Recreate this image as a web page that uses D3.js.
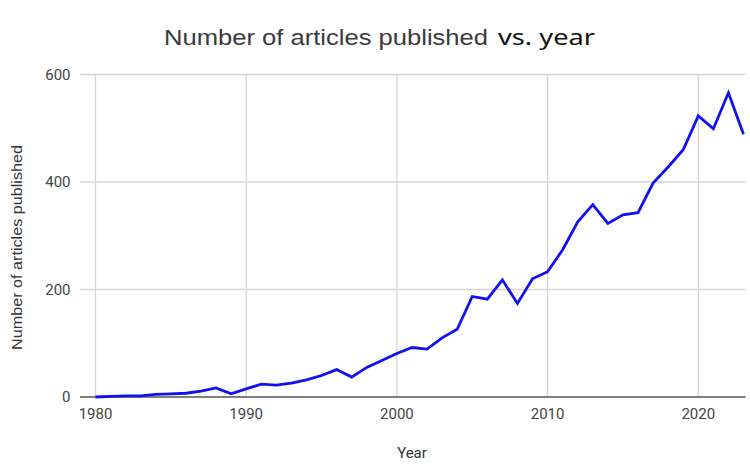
<!DOCTYPE html>
<html>
<head>
<meta charset="utf-8">
<script src="https://cdn.jsdelivr.net/npm/d3@7/dist/d3.min.js"></script>
<style>
  html, body { margin: 0; padding: 0; background: #fff; }
  svg { display: block; }
</style>
</head>
<body>
<svg id="chart" width="750" height="465"></svg>
<script>
const years = [1980,1981,1982,1983,1984,1985,1986,1987,1988,1989,
  1990,1991,1992,1993,1994,1995,1996,1997,1998,1999,
  2000,2001,2002,2003,2004,2005,2006,2007,2008,2009,
  2010,2011,2012,2013,2014,2015,2016,2017,2018,2019,
  2020,2021,2022,2023];
const articles = [0,1,2,2,5,6,7,11,17,6,
  15,24,22,26,32,40,51,37,55,68,
  81,92,89,110,126,187,182,218,174,220,
  233,274,326,358,323,339,343,398,428,460,
  523,499,566,489];
const xTicks = [1980,1990,2000,2010,2020];
const yTicks = [0,200,400,600];
const titleMain = "Number of articles published";
const titleTail = "vs. year";
const xTitle = "Year";
const yTitle = "Number of articles published";

(function () {
const svg = d3.select("#chart");
const pLeft = 95.5, pRight = 743.5, pTop = 74.5, pBottom = 397;
const x = d3.scaleLinear().domain([1980, 2023]).range([pLeft, pRight]);
const y = d3.scaleLinear().domain([0, 600]).range([pBottom, pTop]);

// gridlines
const grid = svg.append("g");
grid.selectAll("line.h").data(yTicks.filter(d => d > 0)).join("line")
  .attr("x1", 80).attr("x2", pRight + 2)
  .attr("y1", d => y(d)).attr("y2", d => y(d))
  .attr("stroke", "#d6d6d6").attr("stroke-width", 1.3);
grid.selectAll("line.v").data(xTicks).join("line")
  .attr("x1", d => x(d)).attr("x2", d => x(d))
  .attr("y1", pTop).attr("y2", pBottom)
  .attr("stroke", "#d6d6d6").attr("stroke-width", 1.3);

// baseline
svg.append("line").attr("x1", 80).attr("x2", pRight + 2)
  .attr("y1", y(0)).attr("y2", y(0))
  .attr("stroke", "#555").attr("stroke-width", 1.3);

// y tick labels
svg.append("g").selectAll("text").data(yTicks).join("text")
  .attr("x", 70.5).attr("y", d => y(d)).attr("dy", "0.35em")
  .attr("text-anchor", "end")
  .attr("font-family", "Roboto, Arial, sans-serif").attr("font-size", 15)
  .attr("fill", "#444").text(d => d);

// x tick labels
svg.append("g").selectAll("text").data(xTicks).join("text")
  .attr("x", d => x(d)).attr("y", 418.5)
  .attr("text-anchor", "middle")
  .attr("font-family", "Roboto, Arial, sans-serif").attr("font-size", 15)
  .attr("fill", "#444").text(d => d);

// line
const line = d3.line().x((d, i) => x(years[i])).y(d => y(d));
svg.append("path").datum(articles)
  .attr("d", line).attr("fill", "none")
  .attr("stroke", "#1010f0").attr("stroke-width", 2.8)
  .attr("stroke-linejoin", "miter");

// axis titles
svg.append("text").attr("x", 412).attr("y", 458)
  .attr("text-anchor", "middle")
  .attr("font-family", "Roboto, Arial, sans-serif").attr("font-size", 15)
  .attr("fill", "#333").text(xTitle);
svg.append("text")
  .attr("transform", "translate(22,247.5) rotate(-90)")
  .attr("text-anchor", "middle")
  .attr("font-family", "Liberation Sans, Arial, sans-serif").attr("font-size", 15)
  .attr("textLength", 205).attr("lengthAdjust", "spacingAndGlyphs")
  .attr("fill", "#333").text(yTitle);

// title
svg.append("text").attr("x", 164).attr("y", 45)
  .attr("font-family", "Liberation Sans, Arial, sans-serif").attr("font-size", 21.5)
  .attr("textLength", 324).attr("lengthAdjust", "spacingAndGlyphs")
  .attr("fill", "#3a3a3a").text(titleMain);
svg.append("text").attr("x", 498).attr("y", 45)
  .attr("font-family", "Noto Sans, sans-serif").attr("font-size", 21)
  .attr("textLength", 97).attr("lengthAdjust", "spacingAndGlyphs")
  .attr("fill", "#111").text(titleTail);
})();
</script>
</body>
</html>
